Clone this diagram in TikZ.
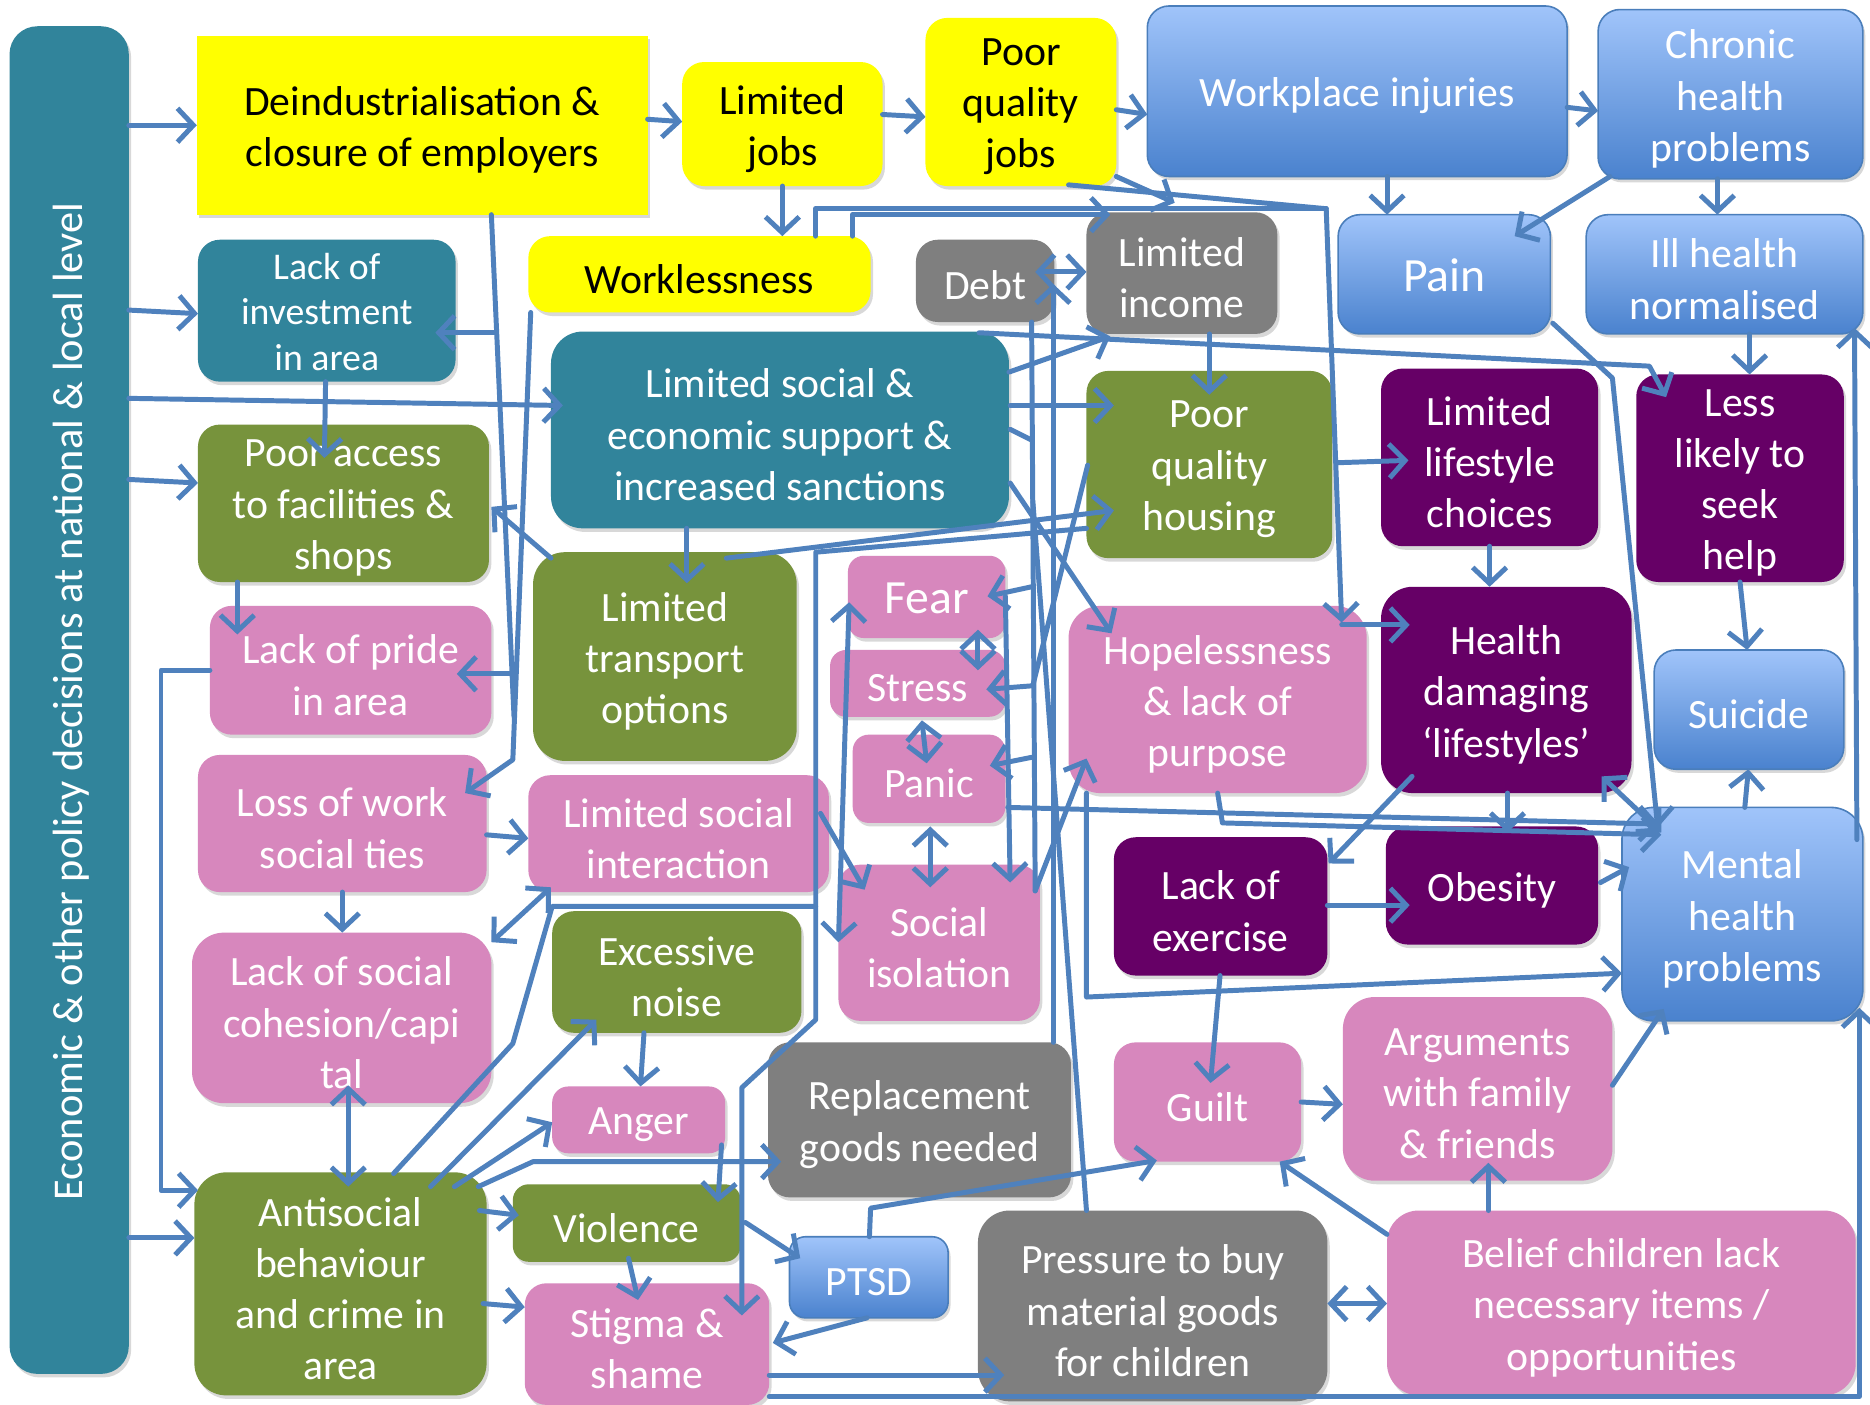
\documentclass[tikz,border=0pt]{standalone}
\usepackage{fontspec}
\setmainfont{Carlito}
\usetikzlibrary{arrows.meta,calc,shadows}
\definecolor{tealc}{HTML}{31849B}
\definecolor{yel}{HTML}{FFFF00}
\definecolor{grn}{HTML}{77933C}
\definecolor{pnk}{HTML}{D787BD}
\definecolor{prp}{HTML}{660066}
\definecolor{gry}{HTML}{7F7F7F}
\definecolor{btop}{HTML}{A0C4FA}
\definecolor{bbot}{HTML}{4A82CE}
\definecolor{bdraw}{HTML}{4A7EBB}
\definecolor{linec}{HTML}{4F81BD}
% #1 name, #2 box style, #3 text options, #4-#7 corners, #8 text
\newcommand\mybox[8]{%
  \pgfmathsetmacro\bxcx{(#4+#6)/2}%
  \pgfmathsetmacro\bxcy{(#5+#7)/2}%
  \pgfmathsetmacro\bxw{(#6-#4)*0.6}%
  \pgfmathsetmacro\bxh{(#7-#5)*0.6}%
  \node[#2, minimum width=\bxw pt, minimum height=\bxh pt] (#1) at (\bxcx,\bxcy) {};
  \node[txt, #3] (#1t) at ($(#1.center)+(0,4)$) {#8};}
\tikzset{
  nb/.style={rectangle, rounded corners=11pt, inner sep=0pt, outer sep=0pt,
    drop shadow={shadow xshift=1.2pt,shadow yshift=-1.8pt,opacity=.3}},
  txt/.style={align=center, inner sep=0pt, text=white, font=\fontsize{21}{25.8}\selectfont},
  blk/.style={text=black},
  big/.style={font=\fontsize{24}{29}\selectfont, yshift=1.8pt},
  yelbox/.style={nb, fill=yel},
  tealbox/.style={nb, fill=tealc},
  grnbox/.style={nb, fill=grn},
  pnkbox/.style={nb, fill=pnk},
  prpbox/.style={nb, fill=prp},
  grybox/.style={nb, fill=gry},
  blubox/.style={nb, top color=btop, bottom color=bbot, draw=bdraw, line width=0.8pt},
  conn/.style={draw=linec, line width=2.5pt, line cap=round, line join=round},
  arr/.style={conn, -{Straight Barb[length=8pt,width=17pt]}},
  darr/.style={conn, {Straight Barb[length=8pt,width=17pt]}-{Straight Barb[length=8pt,width=17pt]}},
}
\begin{document}
\begin{tikzpicture}[x=0.6pt,y=-0.6pt]
\useasboundingbox (0,0) rectangle (1568,1178);
\fill[white] (0,0) rectangle (1568,1178);
% nodes
\mybox{bar}{tealbox, rounded corners=14pt}{}{8}{22}{108}{1152}{}
\node[rotate=90, text=white, font=\fontsize{21.3}{25.8}\selectfont] (bartxt) at (60,588) {Economic \& other policy decisions at national \& local level};
\mybox{dein}{yelbox, sharp corners}{blk}{165}{30}{543}{180}{Deindustrialisation \&\\closure of employers}
\mybox{ljobs}{yelbox}{blk}{572}{52}{740}{156}{Limited\\jobs}
\mybox{pqjobs}{yelbox}{blk}{776}{15}{936}{156}{Poor\\quality\\jobs}
\mybox{wpi}{blubox}{}{962}{5}{1314}{148}{Workplace injuries}
\mybox{chronic}{blubox}{}{1340}{8}{1562}{150}{Chronic\\health\\problems}
\mybox{linv}{tealbox}{font=\fontsize{19}{22.8}\selectfont, yshift=1.8pt}{166}{201}{382}{320}{Lack of\\investment\\in area}
\mybox{workless}{yelbox}{blk}{443}{198}{730}{262}{Worklessness}
\mybox{debt}{grybox}{}{768}{201}{884}{270}{Debt}
\mybox{linc}{grybox}{}{911}{178}{1071}{280}{Limited\\income}
\mybox{pain}{blubox}{big}{1122}{180}{1300}{280}{Pain}
\mybox{illh}{blubox}{}{1330}{180}{1562}{280}{Ill health\\normalised}
\mybox{lsocsup}{tealbox, rounded corners=16pt}{}{462}{278}{846}{443}{Limited social \&\\economic support \&\\increased sanctions}
\mybox{paccess}{grnbox}{}{166}{356}{410}{488}{Poor access\\to facilities \&\\shops}
\mybox{pqhouse}{grnbox}{}{911}{311}{1117}{468}{Poor\\quality\\housing}
\mybox{llife}{prpbox}{}{1158}{309}{1340}{458}{Limited\\lifestyle\\choices}
\mybox{lesslik}{prpbox}{}{1372}{314}{1546}{488}{Less\\likely to\\seek\\help}
\mybox{ltrans}{grnbox, rounded corners=16pt}{}{447}{463}{668}{638}{Limited\\transport\\options}
\mybox{fear}{pnkbox, rounded corners=8pt}{big}{711}{466}{843}{535}{Fear}
\mybox{stress}{pnkbox, rounded corners=8pt}{}{696}{545}{843}{601}{Stress}
\mybox{panic}{pnkbox, rounded corners=8pt}{}{715}{616}{843}{690}{Panic}
\mybox{lpride}{pnkbox}{}{176}{508}{412}{616}{Lack of pride\\in area}
\mybox{hopeless}{pnkbox, rounded corners=16pt}{}{896}{508}{1146}{665}{Hopelessness\\\& lack of\\purpose}
\mybox{hdl}{prpbox, rounded corners=16pt}{}{1158}{492}{1368}{665}{Health\\damaging\\‘lifestyles’}
\mybox{suicide}{blubox}{}{1387}{545}{1546}{645}{Suicide}
\mybox{lwork}{pnkbox}{}{166}{633}{408}{748}{Loss of work\\social ties}
\mybox{lsi}{pnkbox}{}{443}{650}{695}{748}{Limited social\\interaction}
\mybox{sociso}{pnkbox}{}{703}{725}{872}{856}{Social\\isolation}
\mybox{lexer}{prpbox}{}{934}{702}{1113}{818}{Lack of\\exercise}
\mybox{obesity}{prpbox}{}{1162}{693}{1340}{792}{Obesity}
\mybox{mental}{blubox, rounded corners=16pt}{}{1360}{677}{1562}{856}{Mental\\health\\problems}
\mybox{lcoh}{pnkbox, rounded corners=16pt}{}{161}{782}{412}{925}{Lack of social\\cohesion/capi\\tal}
\mybox{noise}{grnbox}{}{463}{764}{672}{866}{Excessive\\noise}
\mybox{repl}{grybox}{}{644}{874}{898}{1004}{Replacement\\goods needed}
\mybox{guilt}{pnkbox}{}{934}{874}{1091}{974}{Guilt}
\mybox{argue}{pnkbox, rounded corners=16pt}{}{1126}{836}{1352}{990}{Arguments\\with family\\\& friends}
\mybox{anger}{pnkbox, rounded corners=8pt}{}{463}{911}{608}{967}{Anger}
\mybox{anti}{grnbox, rounded corners=16pt}{}{163}{983}{408}{1170}{Antisocial\\behaviour\\and crime in\\area}
\mybox{viol}{grnbox, rounded corners=8pt}{}{430}{993}{621}{1058}{Violence}
\mybox{ptsd}{blubox, rounded corners=8pt}{}{662}{1037}{795}{1105}{PTSD}
\mybox{press}{grybox, rounded corners=16pt}{}{820}{1015}{1113}{1175}{Pressure to buy\\material goods\\for children}
\mybox{belief}{pnkbox, rounded corners=16pt}{}{1163}{1015}{1556}{1170}{Belief children lack\\necessary items /\\opportunities}
\mybox{stigma}{pnkbox}{}{440}{1076}{645}{1178}{Stigma \&\\shame}
% connectors
\draw[arr] ($(bar.north west)+(100,83)$) -- ($(dein.north west)+(0,75)$);
\draw[arr] ($(bar.north west)+(100,238)$) -- ($(linv.north west)+(0,62)$);
\draw[arr] ($(bar.north west)+(100,312)$) -- ($(lsocsup.north west)+(10,62)$);
\draw[arr] ($(bar.north west)+(100,380)$) -- ($(paccess.north west)+(0,49)$);
\draw[arr] ($(bar.north west)+(100,1016)$) -- ($(anti.north west)+(0,55)$);
\draw[arr] ($(lpride.north west)+(0,54)$) -- ++(-41,0) |- ($(anti.north west)+(3,15)$);
\draw[arr] ($(dein.north west)+(378,70)$) -- ($(ljobs.north west)+(0,50)$);
\draw[arr] ($(ljobs.north west)+(168,44)$) -- ($(pqjobs.north west)+(0,83)$);
\draw[arr] ($(pqjobs.north west)+(160,77)$) -- ($(wpi.north west)+(0,91)$);
\draw[arr] ($(wpi.north west)+(352,85)$) -- ($(chronic.north west)+(0,85)$);
\draw[arr] ($(wpi.north west)+(201,143)$) -- ($(pain.north west)+(41,0)$);
\draw[arr] ($(chronic.north west)+(100,142)$) -- ($(illh.north west)+(110,0)$);
\draw[arr] ($(chronic.north west)+(10,140)$) -- ($(pain.north west)+(148,18)$);
\draw[arr] ($(illh.north west)+(137,100)$) -- ($(lesslik.north west)+(95,0)$);
\draw[arr] ($(lesslik.north west)+(87,174)$) -- ($(suicide.north west)+(78,0)$);
\draw[arr] ($(mental.north west)+(103,0)$) -- ($(suicide.north west)+(79,100)$);
\draw[arr] ($(llife.north west)+(91,149)$) -- ($(hdl.north west)+(91,0)$);
\draw[arr] ($(hdl.north west)+(106,173)$) -- ($(obesity.north west)+(102,5)$);
\draw[arr] ($(hdl.north west)+(26,159)$) -- ($(lexer.north west)+(180,22)$);
\draw[darr] ($(hdl.north west)+(185,159)$) -- ($(mental.north west)+(33,21)$);
\draw[arr] ($(lexer.north west)+(179,57)$) -- ($(obesity.north west)+(20,66)$);
\draw[arr] ($(obesity.north west)+(180,47)$) -- ($(mental.north west)+(6,50)$);
\draw[arr] ($(lexer.north west)+(89,116)$) -- ($(guilt.north west)+(81,34)$);
\draw[arr] ($(guilt.north west)+(157,50)$) -- ($(argue.north west)+(0,90)$);
\draw[arr] ($(argue.north west)+(226,74)$) -- ($(mental.north west)+(35,169)$);
\draw[arr] ($(belief.north west)+(85,0)$) -- ($(argue.north west)+(122,139)$);
\draw[arr] ($(belief.north west)+(0,20)$) -- ($(guilt.north west)+(139,100)$);
\draw[darr] ($(press.north west)+(293,78)$) -- ($(belief.north west)+(0,78)$);
\draw[arr] ($(stigma.north west)+(205,95)$) -| ($(mental.north west)+(199,168)$);
\draw[arr] ($(mental.north west)+(197,27)$) -- ($(illh.north west)+(225,95)$);
\draw[arr] ($(stigma.north west)+(205,77)$) -- ($(press.north west)+(22,138)$);
\draw[arr] ($(ljobs.north west)+(84,104)$) -- ($(workless.north west)+(213,0)$);
\draw[arr] ($(workless.north west)+(272,0)$) |- ($(linc.north west)+(20,2)$);
\coordinate (jA) at (1112,175);
\draw[conn] ($(workless.north west)+(241,0)$) |- (jA);
\draw[conn] ($(pqjobs.north west)+(120,140)$) -- (jA);
\draw[arr] (jA) -- ($(hopeless.north west)+(229,14)$);
\draw[arr] ($(hopeless.north west)+(229,16)$) -- ($(hdl.north west)+(24,32)$);
\draw[arr] ($(pqjobs.north west)+(160,133)$) -- ($(linc.north west)+(74,-8)$);
\draw[darr] ($(debt.north west)+(100,27)$) -- ($(linc.north west)+(0,50)$);
\draw[arr] ($(linc.north west)+(103,102)$) -- ($(pqhouse.north west)+(103,20)$);
\draw[arr] ($(lsocsup.north west)+(384,34)$) -- ($(linc.north west)+(20,104)$);
\draw[arr] ($(lsocsup.north west)+(359,1)$) -- ($(lesslik.north west)+(11,-7)$) -- ($(lesslik.north west)+(25,19)$);
\draw[arr] ($(lsocsup.north west)+(385,62)$) -- ($(pqhouse.north west)+(23,29)$);
\draw[arr] ($(lsocsup.north west)+(114,165)$) -- ($(ltrans.north west)+(129,26)$);
\draw[arr] ($(lsocsup.north west)+(385,127)$) -- ($(hopeless.north west)+(36,23)$);
\draw[arr] ($(ltrans.north west)+(162,5)$) -- ($(pqhouse.north west)+(23,117)$);
\draw[arr] ($(ltrans.north west)+(15,5)$) -- ($(paccess.north west)+(246,69)$);
\draw[arr] ($(pqhouse.north west)+(0,132)$) -- (684,463) -- (684,855) -- (622,912) -- ($(stigma.north west)+(182,27)$);
\coordinate (jC) at (684,760);
\draw[conn] ($(anti.north west)+(167,1)$) -- (430,875) -- (463,760) -- (jC);
\draw[arr] ($(linv.north west)+(107,119)$) -- ($(paccess.north west)+(106,28)$);
\coordinate (jD) at (431,601);
\draw[conn] ($(dein.north west)+(247,150)$) -- (jD);
\draw[arr] ($(dein.north west)+(251,249)$) -- ($(linv.north west)+(199,78)$);
\draw[arr] ($(dein.north west)+(264,535)$) -- ($(lpride.north west)+(207,57)$);
\draw[arr] ($(workless.north west)+(2,64)$) -- (430,637) -- ($(lwork.north west)+(224,32)$);
\draw[arr] ($(paccess.north west)+(33,132)$) -- ($(lpride.north west)+(23,24)$);
\draw[arr] ($(lwork.north west)+(242,67)$) -- ($(lsi.north west)+(0,53)$);
\draw[arr] ($(lwork.north west)+(121,115)$) -- ($(lcoh.north west)+(126,0)$);
\draw[darr] ($(lcoh.north west)+(251,8)$) -- ($(lsi.north west)+(19,94)$);
\draw[darr] ($(lcoh.north west)+(131,128)$) -- ($(anti.north west)+(129,12)$);
\draw[arr] ($(anti.north west)+(198,12)$) -- ($(noise.north west)+(37,91)$);
\draw[arr] ($(anti.north west)+(218,12)$) -- ($(anger.north west)+(0,30)$);
\draw[arr] ($(anti.north west)+(238,12)$) -- (447,974) -- ($(repl.north west)+(11,100)$);
\draw[arr] ($(anti.north west)+(239,32)$) -- ($(viol.north west)+(5,26)$);
\draw[arr] ($(anti.north west)+(242,110)$) -- ($(stigma.north west)+(0,20)$);
\draw[arr] ($(noise.north west)+(77,102)$) -- ($(anger.north west)+(74,0)$);
\draw[arr] ($(anger.north west)+(142,49)$) -- ($(viol.north west)+(172,15)$);
\draw[arr] ($(viol.north west)+(97,62)$) -- ($(stigma.north west)+(95,14)$);
\draw[arr] ($(viol.north west)+(195,32)$) -- ($(ptsd.north west)+(9,18)$);
\draw[arr] ($(ptsd.north west)+(65,68)$) -- ($(stigma.north west)+(208,50)$);
\draw[arr] ($(ptsd.north west)+(67,0)$) -- (730,1013) -- ($(guilt.north west)+(36,99)$);
\draw[arr] ($(lsi.north west)+(245,32)$) -- ($(sociso.north west)+(22,21)$);
\draw[darr] ($(fear.north west)+(1,39)$) -- ($(sociso.north west)+(0,65)$);
\draw[darr] ($(fear.north west)+(109,62)$) -- ($(stress.north west)+(124,17)$);
\draw[darr] ($(stress.north west)+(77,59)$) -- ($(panic.north west)+(62,24)$);
\draw[darr] ($(panic.north west)+(65,77)$) -- ($(sociso.north west)+(77,19)$);
\draw[conn] ($(debt.north west)+(97,69)$) -- ($(sociso.north west)+(165,22)$);
\draw[arr] ($(debt.north west)+(97,291)$) -- ($(fear.north west)+(117,34)$);
\draw[arr] ($(debt.north west)+(97,434)$) -- ($(panic.north west)+(115,26)$);
\draw[arr] ($(sociso.north west)+(165,22)$) -- ($(hopeless.north west)+(15,128)$);
\draw[arr] ($(pqhouse.north west)+(1,79)$) -- (866,575) -- ($(stress.north west)+(131,33)$);
\draw[conn] ($(lsocsup.north west)+(385,82)$) -- ($(debt.north west)+(97,168)$);
\draw[arr] ($(fear.north west)+(132,34)$) -- ($(sociso.north west)+(144,15)$);
\draw[arr] ($(repl.north west)+(239,0)$) -- ($(debt.north west)+(115,37)$);
\draw[conn] ($(press.north west)+(91,0)$) -- ($(debt.north west)+(98,219)$);
\draw[arr] ($(hopeless.north west)+(125,157)$) -- (1025,690) -- ($(mental.north west)+(33,23)$);
\draw[arr] ($(hopeless.north west)+(15,157)$) -- (911,836) -- ($(mental.north west)+(0,139)$);
\draw[arr] ($(panic.north west)+(130,61)$) -- ($(mental.north west)+(31,14)$);
\draw[arr] ($(pain.north west)+(180,91)$) -- (1352,317) -- ($(mental.north west)+(30,17)$);
\draw[arr] ($(pqhouse.north west)+(210,77)$) -- ($(llife.north west)+(23,77)$);
\end{tikzpicture}
\end{document}
